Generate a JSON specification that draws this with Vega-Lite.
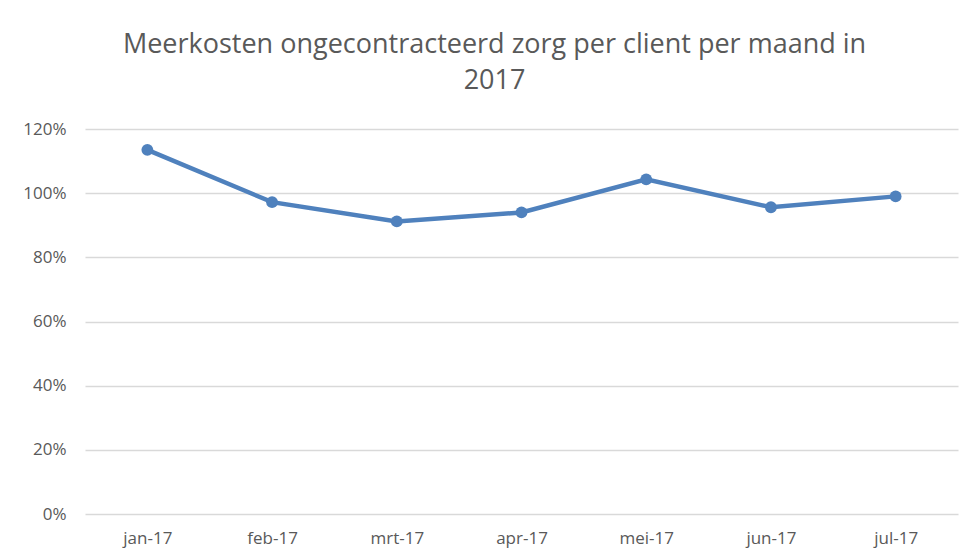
{
  "$schema": "https://vega.github.io/schema/vega-lite/v6.json",
  "autosize": "none",
  "width": 873,
  "height": 385,
  "padding": {"left": 85, "top": 129, "right": 10, "bottom": 42},
  "background": "white",
  "title": {
    "text": ["Meerkosten ongecontracteerd zorg per client per maand in", "2017"],
    "font": "Open Sans",
    "fontSize": 27,
    "fontWeight": "normal",
    "color": "#595959",
    "lineHeight": 36,
    "anchor": "middle",
    "dx": -27,
    "offset": 25
  },
  "config": {
    "view": {"stroke": null},
    "axis": {
      "labelFont": "Open Sans",
      "labelFontSize": 17,
      "labelColor": "#595959",
      "domain": false,
      "ticks": false,
      "title": null
    }
  },
  "data": {
    "values": [
      {"maand": "jan-17", "waarde": 1.135},
      {"maand": "feb-17", "waarde": 0.972},
      {"maand": "mrt-17", "waarde": 0.912},
      {"maand": "apr-17", "waarde": 0.940},
      {"maand": "mei-17", "waarde": 1.043},
      {"maand": "jun-17", "waarde": 0.956},
      {"maand": "jul-17", "waarde": 0.990}
    ]
  },
  "encoding": {
    "x": {
      "field": "maand",
      "type": "ordinal",
      "sort": null,
      "scale": {"type": "point", "padding": 0.5},
      "axis": {"labelAngle": 0, "labelPadding": 16, "grid": false}
    },
    "y": {
      "field": "waarde",
      "type": "quantitative",
      "scale": {"domain": [0, 1.2], "nice": false},
      "axis": {
        "values": [0, 0.2, 0.4, 0.6, 0.8, 1.0, 1.2],
        "format": ".0%",
        "labelPadding": 19,
        "grid": true,
        "gridColor": "#D9D9D9",
        "gridWidth": 1.5
      }
    }
  },
  "layer": [
    {"mark": {"type": "line", "color": "#4F81BD", "strokeWidth": 4.5}},
    {"mark": {"type": "point", "filled": true, "opacity": 1, "color": "#4F81BD", "size": 140}}
  ]
}
